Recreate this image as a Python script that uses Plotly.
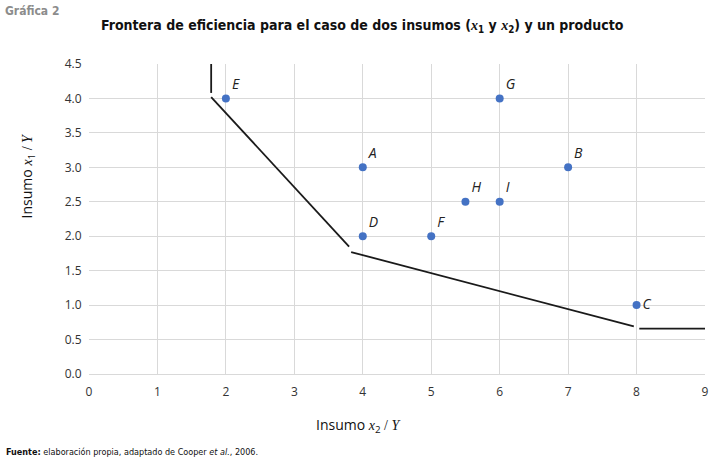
import plotly.graph_objects as go

# Data
point_labels = ["E", "A", "G", "B", "H", "I", "D", "F", "C"]
point_x = [2, 4, 6, 7, 5.5, 6, 4, 5, 8]
point_y = [4, 3, 4, 3, 2.5, 2.5, 2, 2, 1]
label_pos = ["top right"] * 8 + ["middle right"]

# Efficiency frontier segments (drawn with small gaps, None separates segments)
frontier_x = [1.785, 1.785, None, 1.785, 3.80, None, 3.83, 7.96, None, 8.04, 9.0]
frontier_y = [4.56, 4.08, None, 4.02, 1.85, None, 1.77, 0.69, None, 0.66, 0.66]

x_ticks = [0, 1, 2, 3, 4, 5, 6, 7, 8, 9]
y_ticks = [0.0, 0.5, 1.0, 1.5, 2.0, 2.5, 3.0, 3.5, 4.0, 4.5]

cond = "Liberation Sans Narrow, DejaVu Sans Condensed, Roboto Condensed, sans-serif"

fig = go.Figure()
fig.add_trace(go.Scatter(
    x=frontier_x, y=frontier_y, mode="lines",
    line=dict(color="#1a1a1a", width=1.8),
    connectgaps=False, hoverinfo="skip", cliponaxis=False, showlegend=False))
fig.add_trace(go.Scatter(
    x=point_x, y=point_y, mode="markers+text",
    marker=dict(color="#4472C4", size=8),
    text=["<i>" + t + "</i>" for t in point_labels],
    textposition=label_pos,
    textfont=dict(family="Open Sans", size=14, color="#222222"),
    cliponaxis=False, showlegend=False))

serif = "font-family:'Liberation Serif'"
fig.update_layout(
    width=719, height=461,
    margin=dict(l=89, r=10, t=64, b=87),
    paper_bgcolor="white", plot_bgcolor="white",
    font=dict(family="Open Sans", size=12, color="#333333"),
    xaxis=dict(range=[0, 9], tickvals=x_ticks, ticktext=[str(v) for v in x_ticks],
               showgrid=True, gridcolor="#d9d9d9", gridwidth=1,
               zeroline=False, showline=True, linecolor="#d9d9d9",
               ticks="outside", ticklen=7, tickcolor="rgba(0,0,0,0)",
               tickfont=dict(size=12, color="#333333")),
    yaxis=dict(range=[0, 4.5], tickvals=y_ticks, ticktext=[f"{v:.1f}" for v in y_ticks],
               showgrid=True, gridcolor="#d9d9d9", gridwidth=1,
               zeroline=False, showline=False,
               ticks="outside", ticklen=4, tickcolor="rgba(0,0,0,0)",
               tickfont=dict(size=12, color="#333333")),
    annotations=[
        dict(text="<b>Gráfica 2</b>", xref="paper", yref="paper", x=-87/620, y=1 + 62/310,
             xanchor="left", yanchor="top", showarrow=False,
             font=dict(family=cond, size=12, color="#8c8c8c")),
        dict(text=f"<b>Frontera de eficiencia para el caso de dos insumos (<span style=\"{serif}\"><i>x</i></span><sub>1</sub> y <span style=\"{serif}\"><i>x</i></span><sub>2</sub>) y un producto</b>",
             xref="paper", yref="paper", x=(364 - 89) / 620, y=1 + (64 - 26) / 310,
             xanchor="center", yanchor="middle", showarrow=False,
             font=dict(family=cond, size=14, color="#111111")),
        dict(text=f"Insumo <span style=\"{serif}\"><i>x</i></span><sub>1</sub><span style=\"{serif}\"> / <i>Y</i></span>",
             xref="paper", yref="paper", x=(27 - 89) / 620, y=(374 - 175) / 310,
             xanchor="center", yanchor="middle", textangle=-90, showarrow=False,
             font=dict(family="Open Sans", size=14, color="#111111")),
        dict(text=f"Insumo <span style=\"{serif}\"><i>x</i></span><sub>2</sub><span style=\"{serif}\"> / <i>Y</i></span>",
             xref="paper", yref="paper", x=(361 - 89) / 620, y=(374 - 425) / 310,
             xanchor="center", yanchor="middle", showarrow=False,
             font=dict(family="Open Sans", size=14, color="#111111")),
        dict(text="<b>Fuente:</b> elaboración propia, adaptado de Cooper <i>et al.</i>, 2006.",
             xref="paper", yref="paper", x=(3 - 89) / 620, y=(374 - 452) / 310,
             xanchor="left", yanchor="middle", showarrow=False,
             font=dict(family=cond, size=9, color="#111111")),
    ],
)

fig.write_html("out.html", config={"displayModeBar": False},
               post_script="document.body.style.margin='0';document.body.style.padding='0';")
